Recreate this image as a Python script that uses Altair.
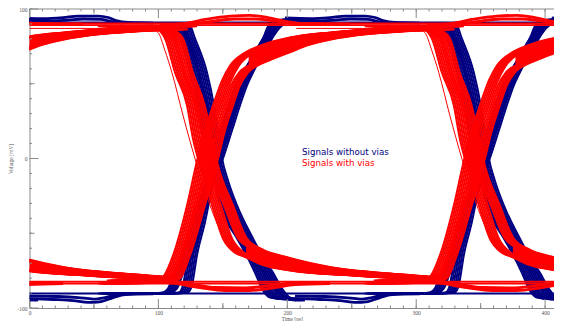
import altair as alt
import pandas as pd

# ---------------- data (time in ps, voltage in mV) ----------------
UI = 207.0                      # unit interval: spacing of the eye crossings
SHIFTS = [-UI, 0.0, UI]         # previous, central and next crossing
JITTER = [0.0, 1.4, 2.8, 4.2, 5.6, 7.0]   # spread of the traces inside a band (ps)

# red: signals with vias
RF_EARLY = [(60, 87.6), (93.5, 87.6), (99.7, 86.3), (105.1, 80.3), (112.9, 57.5), (122.2, 35.5),
            (126.8, 13.4), (132.3, -4.7), (141.6, -31.4), (150.1, -53.5), (159.4, -63.0),
            (168, -66.0), (180, -71.0), (202, -74.9), (250, -78.3), (311, -81.0)]
RF_LATE = [(60, 88.5), (105.1, 88.3), (112.9, 85.6), (119.1, 80.3), (126.8, 57.5), (136.0, 35.5),
           (141.6, 13.4), (146.3, -4.7), (157.9, -31.4), (168.7, -53.5), (180, -60.5),
           (202, -66.5), (233, -72.5), (280, -77.0), (311, -79.0)]
RR_EARLY = [(60, -81.6), (97.4, -80.9), (103.6, -78.9), (111.3, -64.9), (122.2, -31.4), (130.0, -1.3),
            (136.1, 18.7), (142.4, 35.5), (149.4, 52.2), (155.6, 62.2), (167.2, 70.9), (180, 75.8),
            (202, 80.9), (233, 84.3), (272, 87.0), (303, 88.3), (330, 88.5)]
RR_LATE = [(60, -83.6), (109.0, -82.9), (116.8, -80.3), (124.5, -64.9), (136.1, -31.4), (146.3, 0.0),
           (151.7, 18.7), (157.9, 35.5), (163.3, 48.8), (169.5, 57.5), (180, 63.4), (190, 67.0),
           (202, 71.0), (215, 75.5), (233, 79.5), (250, 82.0), (272, 84.0), (303, 85.6), (330, 86.5)]
RO_UPPER = [(101.2, 89.0), (120.6, 90.3), (136.1, 93.0), (155.6, 95.3), (171.1, 95.7), (185, 94.3),
            (199.8, 91.6), (213.8, 90.3), (248.6, 90.0)]
RO_LOWER = [(95, 87.5), (109, 88.3), (124.5, 89.6), (140, 91.6), (159.4, 93.3), (174.9, 93.3),
            (190.4, 92.0), (205.9, 90.3), (225.3, 90.0)]
RU_UPPER = [(85.7, -80.9), (106.6, -82.3), (128.4, -84.3), (143.9, -86.3), (167.2, -86.6),
            (186.6, -85.0), (202.1, -83.3), (225.4, -82.9)]
RU_LOWER = [(93.5, -81.6), (112.9, -83.6), (132.3, -86.3), (151.7, -88.3), (171.1, -88.3),
            (190.5, -86.3), (206, -84.3), (233.1, -83.6)]
RF_OUTLIER = [(0, 87.0), (93.5, 87.0), (99.7, 84.3), (105.1, 72.2), (110.5, 57.5), (119.1, 28.8),
              (128.4, 0.0), (136.1, -21.4), (146.3, -44.8), (159.4, -61.5), (178.8, -69.6)]
RR_TAIL_T = [170, 180, 190, 202, 215, 233, 250, 272, 303]
RR_TAIL_HI = [71.9, 75.8, 78.4, 80.9, 82.3, 84.3, 85.5, 87.0, 88.3]
RR_TAIL_LO = [57.8, 63.4, 67.0, 71.0, 75.5, 79.5, 82.0, 84.0, 85.6]
RF_TAIL_T = [168, 180, 190, 202, 215, 233, 250, 280, 311]
RF_TAIL_HI = [-54.0, -60.5, -63.5, -66.5, -70.0, -72.5, -74.5, -77.0, -79.0]
RF_TAIL_LO = [-66.0, -71.0, -73.0, -74.9, -76.0, -77.3, -78.3, -79.7, -81.0]
RED_LEVELS = [90.3, 89.2, -82.3, -83.6]

# blue: signals without vias
BF_EARLY = [(60, 90.6), (105.1, 90.6), (110.5, 89.6), (116.8, 80.3), (124.5, 57.5), (130.7, 35.5),
            (135.4, 13.4), (138.5, 0.0), (143.1, -14.7), (147.8, -31.4), (161, -53.5), (167.2, -62.9),
            (174.9, -76.3), (181.1, -88.3), (186.6, -93.0), (198.2, -94.3)]
BF_LATE = [(60, 90.6), (120.6, 90.6), (124.5, 89.0), (128.4, 80.3), (137.7, 57.5), (143.1, 35.5),
           (147, 13.4), (149.4, 0.0), (154, -14.7), (161, -31.4), (173.4, -53.5), (180.4, -64.9),
           (188.9, -76.3), (195.9, -87.0), (202.1, -93.0), (213.7, -95.0)]
BR_EARLY = [(60, -90.3), (93.5, -90.3), (103.6, -89.6), (107.4, -87.0), (112.9, -74.9), (119.1, -64.9),
            (126.8, -42.8), (134.6, -20.1), (141.6, 0.0), (147.8, 18.7), (154, 35.5), (160.2, 48.8),
            (165.6, 57.5), (173.4, 68.9), (181.1, 80.3), (185, 88.3), (190.4, 92.3), (202.1, 93.3)]
BR_LATE = [(60, -90.3), (112.9, -90.3), (122.9, -89.6), (126, -85.0), (129.9, -64.9), (136.1, -42.8),
           (141.6, -20.1), (150.1, 0.0), (157.1, 18.7), (163.3, 35.5), (168.7, 48.8), (173.4, 57.5),
           (180.4, 68.9), (188.1, 80.3), (194.3, 87.6), (202.1, 91.6), (213.7, 92.3)]
BO_UPPER = [(198.2, 94.0), (217.6, 93.6), (233.1, 94.3), (244.8, 95.3), (260.3, 95.3), (268, 94.3),
            (274.2, 92.3), (283.6, 91.0), (302.9, 90.6)]
BO_LOWER = [(202.1, 92.3), (221.5, 92.0), (236.8, 92.6), (248.5, 93.3), (262.6, 93.0), (270.4, 91.6),
            (279.7, 90.6)]
BU_LOWER = [(202.1, -93.6), (225.4, -94.3), (240.9, -95.0), (252.5, -96.3), (262.6, -95.7),
            (271.9, -93.0), (281.2, -91.0), (302.9, -90.6)]
BU_UPPER = [(206, -92.0), (229.3, -92.3), (244.8, -93.0), (256.4, -94.0), (265.7, -93.0),
            (275.8, -91.0), (287.4, -90.3)]
BLUE_LEVELS = [91.0, -90.3]

LEGEND_LABELS = ["Signals without vias", "Signals with vias"]
X_LABELS = [0, 100, 200, 300, 400]
Y_LABELS = [-100, 0, 100]
X_TICKS = list(range(0, 401, 10))
X_MID = [50, 150, 250, 350]
Y_TICKS = list(range(-100, 101, 10))
Y_MID = [-50, 50]
X_MAX = 406.9

# ---------------- styles ----------------
NAVY = "#000080"
RED = "#ff0000"
AXIS_GRAY = "#8a8a8a"
TXT_GRAY = "#555555"
SERIF = "Liberation Serif"
W, H = 524.5, 299


def traces(curves):
    rows = []
    for name, pts, sign in curves:
        jit = JITTER if sign != 0 else [0.0]
        for k, sh in enumerate(SHIFTS):
            for j in jit:
                tid = f"{name}|{k}|{j}"
                for t, v in pts:
                    rows.append({"t": t + sh + sign * j, "v": v, "trace": tid})
    return pd.DataFrame(rows)


def tails(bands):
    rows = []
    for name, ts, his, los in bands:
        for k, sh in enumerate(SHIFTS):
            for t, hi, lo in zip(ts, his, los):
                rows.append({"t": t + sh, "hi": hi, "lo": lo, "band": f"{name}|{k}"})
    return pd.DataFrame(rows)


XS = alt.Scale(domain=[0, X_MAX], nice=False, zero=False)
YS = alt.Scale(domain=[-100, 100], nice=False, zero=False)
XAX = alt.Axis(values=X_LABELS, title="Time [ps]", ticks=False, grid=False, labelFlush=False,
               labelFont=SERIF, labelFontSize=5.5, labelColor=TXT_GRAY, labelPadding=2.5,
               labelExpr="toString(datum.value)",
               titleFont=SERIF, titleFontSize=5.5, titleFontWeight="normal", titleColor=TXT_GRAY,
               titlePadding=0.5, domainColor=AXIS_GRAY)
YAX = alt.Axis(values=Y_LABELS, title="Voltage [mV]", ticks=False, grid=False, labelFlush=False,
               labelFont=SERIF, labelFontSize=5.5, labelColor=TXT_GRAY, labelPadding=2.5,
               labelExpr="toString(datum.value)",
               titleFont=SERIF, titleFontSize=5.5, titleFontWeight="normal", titleColor=TXT_GRAY,
               titlePadding=3, domainColor=AXIS_GRAY)
X = alt.X("t:Q", scale=XS, axis=XAX)
Y = alt.Y("v:Q", scale=YS, axis=YAX)

blue_edge_df = traces([("bfe", BF_EARLY, 1), ("bfl", BF_LATE, -1), ("bre", BR_EARLY, 1), ("brl", BR_LATE, -1)])
blue_bump_df = traces([("bou", BO_UPPER, 0), ("bol", BO_LOWER, 0), ("buu", BU_UPPER, 0), ("bul", BU_LOWER, 0)])
red_edge_df = traces([("rfe", RF_EARLY, 1), ("rfl", RF_LATE, -1), ("rre", RR_EARLY, 1), ("rrl", RR_LATE, -1)])
red_bump_df = traces([("rou", RO_UPPER, 0), ("rol", RO_LOWER, 0), ("ruu", RU_UPPER, 0), ("rul", RU_LOWER, 0)])
out_df = traces([("rfo", RF_OUTLIER, 0)])
tail_df = tails([("rr", RR_TAIL_T, RR_TAIL_HI, RR_TAIL_LO), ("rf", RF_TAIL_T, RF_TAIL_HI, RF_TAIL_LO)])


def lines(df, color, width):
    return alt.Chart(df).mark_line(clip=True, interpolate="monotone", strokeWidth=width,
                                   color=color).encode(x=X, y=Y, detail="trace:N")


blue_levels = alt.Chart(pd.DataFrame({"v": BLUE_LEVELS})).mark_rule(
    color=NAVY, strokeWidth=2).encode(y=Y)
red_tails = alt.Chart(tail_df).mark_area(clip=True, interpolate="monotone", color=RED).encode(
    x=X, y=alt.Y("hi:Q", scale=YS, axis=YAX, stack=None), y2="lo:Q", detail="band:N")
red_levels = alt.Chart(pd.DataFrame({"v": RED_LEVELS})).mark_rule(
    color=RED, strokeWidth=1.8).encode(y=Y)

txt1 = alt.Chart(pd.DataFrame({"label": [LEGEND_LABELS[0]]})).mark_text(
    align="left", baseline="alphabetic", font="DejaVu Sans", fontSize=8.7, color=NAVY).encode(
    x=alt.value(272.5), y=alt.value(146), text="label:N")
txt2 = alt.Chart(pd.DataFrame({"label": [LEGEND_LABELS[1]]})).mark_text(
    align="left", baseline="alphabetic", font="DejaVu Sans", fontSize=8.7, color=RED).encode(
    x=alt.value(272.5), y=alt.value(157), text="label:N")

top_line = alt.Chart(pd.DataFrame({"t": [0]})).mark_rule(color=AXIS_GRAY, strokeWidth=1).encode(
    x=alt.value(0), x2=alt.value(W), y=alt.value(0))


def xticks(values, length):
    d = pd.DataFrame({"t": values})
    bottom = alt.Chart(d).mark_rule(color=AXIS_GRAY, strokeWidth=1).encode(
        x=X, y=alt.value(H), y2=alt.value(H - length))
    top = alt.Chart(d).mark_rule(color=AXIS_GRAY, strokeWidth=1).encode(
        x=X, y=alt.value(0), y2=alt.value(length))
    return [bottom, top]


def yticks(values, length):
    d = pd.DataFrame({"v": values})
    return [alt.Chart(d).mark_rule(color=AXIS_GRAY, strokeWidth=1).encode(
        y=Y, x=alt.value(0), x2=alt.value(length))]


tick_layers = (xticks(X_TICKS, 2.5) + xticks(X_MID, 5) + xticks(X_LABELS, 9)
               + yticks(Y_TICKS, 2.5) + yticks(Y_MID, 5) + yticks(Y_LABELS, 9))

chart = alt.layer(
    lines(blue_edge_df, NAVY, 2.0), lines(blue_bump_df, NAVY, 2.8), blue_levels,
    red_tails, lines(red_edge_df, RED, 2.0), lines(red_bump_df, RED, 2.8),
    lines(out_df, RED, 1.0), red_levels, txt1, txt2, top_line,
    *tick_layers
).properties(
    width=W, height=H,
    autosize=alt.AutoSizeParams(type="none"),
    padding={"left": 21.5, "top": 1, "right": 0, "bottom": 13},
    background="white",
).configure_view(stroke=None)

chart.save("out.html", embed_options={"renderer": "svg", "actions": False})
